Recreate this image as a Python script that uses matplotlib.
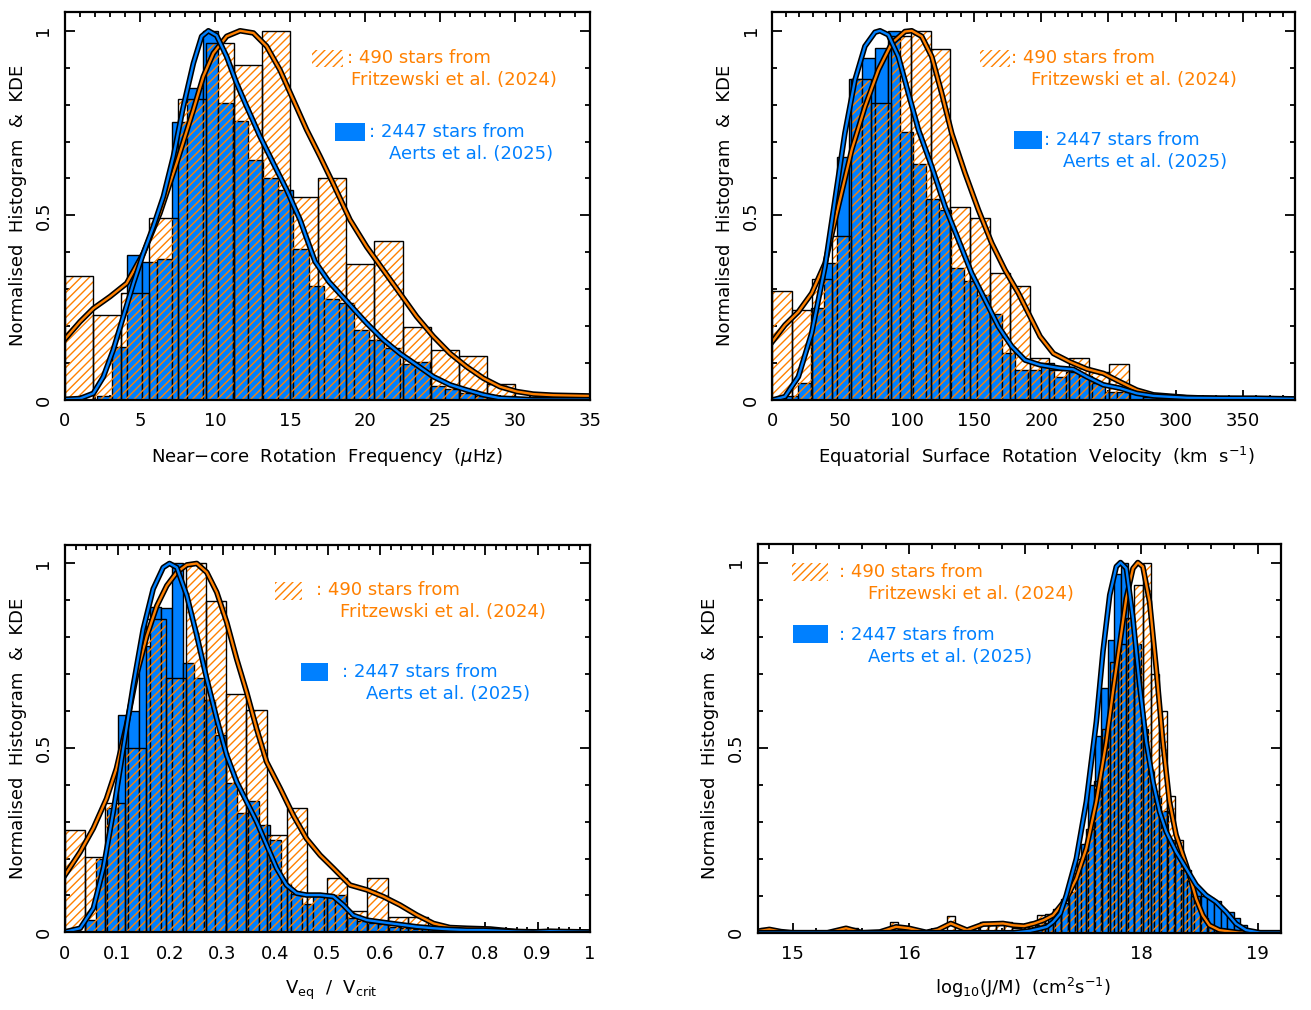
import numpy as np
import matplotlib
matplotlib.use("Agg")
import matplotlib.pyplot as plt
from matplotlib.patches import Rectangle
from matplotlib.ticker import MultipleLocator

plt.rcParams['font.family'] = ['DejaVu Sans']
plt.rcParams['hatch.linewidth'] = 1.0

ORANGE = '#FF8000'
BLUE = '#0080FF'

# ---------------- Panel 1 : near-core rotation frequency ----------------
p1_or_start, p1_or_width = 0.0, 1.875
p1_or_h = [0.336, 0.230, 0.291, 0.492, 0.816, 0.968, 0.906, 1.0, 0.551, 0.600,
           0.368, 0.431, 0.199, 0.136, 0.120, 0.043]
p1_bl_start, p1_bl_width = 2.10, 1.01
p1_bl_h = [0.01, 0.144, 0.393, 0.375, 0.381, 0.752, 0.845, 1.0, 0.804, 0.756,
           0.649, 0.602, 0.569, 0.408, 0.309, 0.274, 0.262, 0.190, 0.163, 0.140,
           0.098, 0.102, 0.038, 0.029, 0.020, 0.012, 0.006, 0.004]
p1_kde_or_x = [0.0, 1.0, 1.89, 3.0, 4.11, 5.22, 6.33, 7.44, 8.56, 9.22, 9.89, 10.78,
               11.67, 12.56, 13.44, 14.33, 15.22, 16.11, 17.0, 17.89, 19.0, 20.11,
               21.22, 22.33, 23.44, 24.56, 25.67, 26.78, 27.89, 29.0, 30.11, 31.22,
               32.56, 35.0]
p1_kde_or_y = [0.165, 0.212, 0.248, 0.280, 0.316, 0.397, 0.506, 0.641, 0.786, 0.876,
               0.939, 0.985, 1.0, 0.994, 0.958, 0.894, 0.813, 0.732, 0.660, 0.585,
               0.488, 0.415, 0.352, 0.289, 0.226, 0.172, 0.126, 0.090, 0.059, 0.036,
               0.023, 0.016, 0.013, 0.011]
p1_kde_bl_x = [0.0, 1.0, 1.89, 2.56, 3.22, 3.89, 4.56, 5.22, 5.89, 6.56, 7.22, 7.89,
               8.56, 9.11, 9.56, 10.11, 10.78, 11.44, 12.11, 13.0, 13.89, 14.78,
               15.67, 16.67, 17.6, 18.5, 19.5, 20.11, 21.22, 22.33, 23.44, 24.56,
               25.67, 26.78, 27.89, 29.0, 31.2, 35.0]
p1_kde_bl_y = [0.002, 0.004, 0.018, 0.063, 0.136, 0.226, 0.316, 0.397, 0.470, 0.551,
               0.659, 0.795, 0.912, 0.985, 1.0, 0.987, 0.930, 0.858, 0.795, 0.714,
               0.641, 0.569, 0.488, 0.375, 0.320, 0.280, 0.235, 0.208, 0.163, 0.126,
               0.095, 0.063, 0.041, 0.027, 0.014, 0.005, 0.001, 0.001]

# ---------------- Panel 2 : equatorial surface rotation velocity ----------------
p2_or_start, p2_or_width = 0.0, 14.72
p2_or_h = [0.294, 0.244, 0.327, 0.443, 0.869, 0.804, 0.985, 1.0, 0.951, 0.524,
           0.492, 0.343, 0.310, 0.113, 0.080, 0.113, 0.075, 0.097]
p2_bl_start, p2_bl_width = 0.39, 9.49
p2_bl_h = [0.005, 0.010, 0.045, 0.250, 0.370, 0.658, 0.869, 0.926, 0.953, 1.0,
           0.727, 0.640, 0.544, 0.515, 0.357, 0.321, 0.285, 0.233, 0.126, 0.081,
           0.081, 0.099, 0.063, 0.075, 0.065, 0.045, 0.022, 0.022, 0.018, 0.008,
           0.006, 0.005, 0.005, 0.004, 0.005, 0.006, 0.005, 0.004, 0.003, 0.004]
p2_kde_or_x = [0, 9.4, 19.4, 29.3, 39.2, 49.1, 59.1, 69.0, 78.9, 88.8, 98.7, 103.7,
               111.1, 118.6, 126.0, 133.5, 143.4, 153.3, 163.2, 173.1, 183.1, 193.0,
               199.2, 209.1, 221.5, 233.9, 246.3, 258.7, 271.1, 283.5, 308.3, 333.0,
               389.0]
p2_kde_or_y = [0.158, 0.203, 0.239, 0.289, 0.370, 0.524, 0.678, 0.795, 0.894, 0.966,
               0.998, 1.0, 0.985, 0.930, 0.831, 0.722, 0.614, 0.515, 0.425, 0.352,
               0.289, 0.217, 0.172, 0.126, 0.103, 0.084, 0.072, 0.049, 0.027, 0.014,
               0.007, 0.004, 0.002]
p2_kde_bl_x = [0, 9.4, 19.4, 29.3, 39.2, 46.6, 54.0, 61.5, 68.9, 76.4, 80.1, 86.3,
               93.8, 101.2, 108.7, 118.6, 128.5, 138.4, 148.3, 158.3, 168.2, 178.1,
               188.0, 199.2, 214.0, 223.9, 233.9, 246.3, 258.7, 271.1, 283.5, 308.3,
               333.0, 358.0, 389.0]
p2_kde_bl_y = [0.0, 0.009, 0.063, 0.181, 0.361, 0.542, 0.723, 0.867, 0.958, 0.996,
               1.0, 0.989, 0.930, 0.831, 0.732, 0.632, 0.524, 0.434, 0.343, 0.271,
               0.199, 0.145, 0.108, 0.095, 0.086, 0.083, 0.063, 0.041, 0.032, 0.018,
               0.011, 0.006, 0.005, 0.005, 0.003]

# ---------------- Panel 3 : Veq / Vcrit ----------------
p3_or_start, p3_or_width = 0.0, 0.0384
p3_or_h = [0.277, 0.205, 0.351, 0.500, 0.850, 0.690, 1.0, 0.897, 0.645, 0.603,
           0.263, 0.337, 0.105, 0.146, 0.058, 0.146, 0.042, 0.042]
p3_bl_start, p3_bl_width = 0.038, 0.0207
p3_bl_h = [0.033, 0.200, 0.337, 0.588, 0.600, 0.777, 0.881, 0.880, 1.0, 0.730,
           0.690, 0.630, 0.534, 0.404, 0.323, 0.355, 0.290, 0.250, 0.130, 0.105,
           0.077, 0.100, 0.100, 0.100, 0.038, 0.030, 0.026, 0.022, 0.015, 0.012,
           0.008, 0.008, 0.006, 0.006, 0.005, 0.004, 0.003, 0.002, 0.002, 0.003,
           0.003, 0.002, 0.002, 0.002, 0.002, 0.001]
p3_kde_bl_x = [0.002, 0.029, 0.054, 0.073, 0.092, 0.111, 0.130, 0.149, 0.168, 0.187,
               0.199, 0.213, 0.232, 0.251, 0.270, 0.289, 0.308, 0.327, 0.346, 0.365,
               0.384, 0.403, 0.422, 0.441, 0.460, 0.486, 0.511, 0.530, 0.549, 0.575,
               0.606, 0.638, 0.670, 0.702, 0.733, 0.765, 0.797, 0.829, 0.860, 0.892,
               0.924, 0.956, 1.0]
p3_kde_bl_y = [0.002, 0.011, 0.065, 0.173, 0.327, 0.498, 0.669, 0.822, 0.931, 0.989,
               1.0, 0.989, 0.913, 0.805, 0.687, 0.579, 0.480, 0.408, 0.354, 0.300,
               0.237, 0.174, 0.128, 0.106, 0.101, 0.101, 0.097, 0.074, 0.046, 0.033,
               0.027, 0.021, 0.015, 0.011, 0.008, 0.006, 0.006, 0.004, 0.002, 0.001,
               0.003, 0.002, 0.001]
p3_kde_or_x = [0.0, 0.029, 0.054, 0.079, 0.098, 0.117, 0.136, 0.156, 0.175, 0.194,
               0.213, 0.232, 0.251, 0.270, 0.289, 0.308, 0.327, 0.346, 0.365, 0.384,
               0.410, 0.435, 0.460, 0.486, 0.511, 0.543, 0.575, 0.606, 0.638, 0.670,
               0.702, 0.733, 0.765, 0.810, 0.860, 1.0]
p3_kde_or_y = [0.155, 0.218, 0.282, 0.362, 0.444, 0.561, 0.696, 0.804, 0.885, 0.940,
               0.976, 0.996, 1.0, 0.976, 0.922, 0.841, 0.741, 0.651, 0.552, 0.462,
               0.390, 0.317, 0.254, 0.209, 0.174, 0.128, 0.115, 0.097, 0.074, 0.047,
               0.024, 0.013, 0.011, 0.009, 0.002, 0.0]

# ---------------- Panel 4 : log10(J/M) ----------------
p4_or_start, p4_or_width = 14.72, 0.07
p4_or_h = [0.012, 0, 0, 0, 0, 0, 0, 0, 0, 0,
           0, 0.012, 0, 0, 0, 0, 0.030, 0.012, 0, 0,
           0, 0, 0, 0.045, 0, 0, 0, 0.030, 0.020, 0.020,
           0.030, 0.012, 0.020, 0.030, 0.047, 0.050, 0.065, 0.090, 0.140, 0.200,
           0.280, 0.410, 0.550, 0.730, 0.780, 0.850, 0.940, 1.0, 0.700, 0.600,
           0.370, 0.250, 0.170, 0.100, 0.040, 0.015]
p4_bl_start, p4_bl_width = 16.97, 0.057
p4_bl_h = [0.010, 0.015, 0.020, 0.025, 0.040, 0.050, 0.080, 0.110, 0.160, 0.240,
           0.400, 0.530, 0.660, 0.790, 0.970, 1.0, 0.850, 0.780, 0.550, 0.440,
           0.370, 0.330, 0.250, 0.220, 0.170, 0.140, 0.120, 0.100, 0.095, 0.085,
           0.060, 0.055, 0.040, 0.020, 0.005]
p4_kde_or_x = [14.70, 14.80, 14.90, 15.00, 15.30, 15.46, 15.60, 15.75, 15.89, 16.00,
               16.15, 16.25, 16.36, 16.50, 16.64, 16.81, 16.90, 16.99, 17.08, 17.16,
               17.24, 17.354, 17.44, 17.526, 17.612, 17.698, 17.755, 17.812, 17.869,
               17.927, 17.969, 18.012, 18.07, 18.127, 18.184, 18.241, 18.298, 18.356,
               18.413, 18.47, 18.527, 18.585, 18.67, 18.842, 19.2]
p4_kde_or_y = [0.004, 0.009, 0.003, 0.0, 0.0, 0.012, 0.0, 0.002, 0.016, 0.012,
               0.001, 0.008, 0.025, 0.007, 0.023, 0.025, 0.020, 0.018, 0.025, 0.034,
               0.047, 0.092, 0.146, 0.228, 0.354, 0.516, 0.651, 0.777, 0.903,
               0.984, 1.0, 0.989, 0.894, 0.714, 0.516, 0.354, 0.264, 0.210,
               0.156, 0.092, 0.047, 0.020, 0.007, 0.0, 0.0]
p4_kde_bl_x = [14.70, 16.9, 17.04, 17.125, 17.187, 17.24, 17.302, 17.354, 17.44, 17.526,
               17.612, 17.669, 17.727, 17.784, 17.82, 17.87, 17.927, 17.984, 18.041,
               18.099, 18.156, 18.213, 18.298, 18.384, 18.47, 18.556, 18.642, 18.728,
               18.814, 18.9, 19.02, 19.2]
p4_kde_bl_y = [0.0, 0.0, 0.005, 0.011, 0.016, 0.029, 0.052, 0.101, 0.200, 0.354,
               0.570, 0.759, 0.912, 0.989, 1.0, 0.984, 0.849, 0.669, 0.516,
               0.408, 0.327, 0.273, 0.219, 0.174, 0.129, 0.101, 0.083, 0.056,
               0.024, 0.007, 0.0, 0.0]

# ---------------- labels / ticks ----------------
xlabels = ["Near\u2212core  Rotation  Frequency  ($\\mu$Hz)",
           "Equatorial  Surface  Rotation  Velocity  (km  s$^{-1}$)",
           "V$_{\\mathrm{eq}}$  /  V$_{\\mathrm{crit}}$",
           "log$_{10}$(J/M)  (cm$^{2}$s$^{-1}$)"]
ylabel = "Normalised  Histogram  &  KDE"
leg_or = [": 490 stars from", "Fritzewski et al. (2024)"]
leg_bl = [": 2447 stars from", "Aerts et al. (2025)"]

xticks = [[0, 5, 10, 15, 20, 25, 30, 35],
          [0, 50, 100, 150, 200, 250, 300, 350],
          [0, 0.1, 0.2, 0.3, 0.4, 0.5, 0.6, 0.7, 0.8, 0.9, 1.0],
          [15, 16, 17, 18, 19]]
xticklabels = [["0", "5", "10", "15", "20", "25", "30", "35"],
               ["0", "50", "100", "150", "200", "250", "300", "350"],
               ["0", "0.1", "0.2", "0.3", "0.4", "0.5", "0.6", "0.7", "0.8", "0.9", "1"],
               ["15", "16", "17", "18", "19"]]
xminor = [1, 10, 0.02, 0.2]
xlims = [(0, 35), (0, 389), (0, 1), (14.7, 19.2)]
yticks = [0, 0.5, 1]
yticklabels = ["0", "0.5", "1"]

W, H = 1311, 1010
FS = 13


def fx(px):
    return px / W


def fy(py):
    return 1 - py / H


fig = plt.figure(figsize=(W / 100, H / 100), dpi=100)

rects = [(65, 12.3, 590, 400), (772.3, 12.3, 1295.3, 400),
         (65, 545, 590, 932.3), (757.7, 544, 1281, 932.7)]
axes = [fig.add_axes([fx(l), fy(b), fx(r) - fx(l), fy(t) - fy(b)]) for (l, t, r, b) in rects]

data = [
    (p1_or_start, p1_or_width, p1_or_h, p1_bl_start, p1_bl_width, p1_bl_h,
     p1_kde_or_x, p1_kde_or_y, p1_kde_bl_x, p1_kde_bl_y),
    (p2_or_start, p2_or_width, p2_or_h, p2_bl_start, p2_bl_width, p2_bl_h,
     p2_kde_or_x, p2_kde_or_y, p2_kde_bl_x, p2_kde_bl_y),
    (p3_or_start, p3_or_width, p3_or_h, p3_bl_start, p3_bl_width, p3_bl_h,
     p3_kde_or_x, p3_kde_or_y, p3_kde_bl_x, p3_kde_bl_y),
    (p4_or_start, p4_or_width, p4_or_h, p4_bl_start, p4_bl_width, p4_bl_h,
     p4_kde_or_x, p4_kde_or_y, p4_kde_bl_x, p4_kde_bl_y),
]

for i, ax in enumerate(axes):
    (os_, ow, oh, bs, bw, bh, kox, koy, kbx, kby) = data[i]
    oleft = os_ + ow * np.arange(len(oh))
    bleft = bs + bw * np.arange(len(bh))
    ax.bar(bleft, bh, width=bw, align='edge', color=BLUE, edgecolor='black',
           linewidth=1.0, zorder=2)
    ax.bar(oleft, oh, width=ow, align='edge', facecolor='none', edgecolor=ORANGE,
           hatch='////', linewidth=0, zorder=3)
    ax.bar(oleft, oh, width=ow, align='edge', fill=False, edgecolor='black',
           linewidth=1.0, zorder=4)
    ax.plot(kox, koy, color='black', lw=4.0, zorder=5, solid_joinstyle='round')
    ax.plot(kox, koy, color=ORANGE, lw=1.7, zorder=6, solid_joinstyle='round')
    ax.plot(kbx, kby, color='black', lw=4.0, zorder=7, solid_joinstyle='round')
    ax.plot(kbx, kby, color=BLUE, lw=1.7, zorder=8, solid_joinstyle='round')

    ax.set_xlim(*xlims[i])
    ax.set_ylim(0, 1.05)
    ax.set_xticks(xticks[i])
    ax.set_xticklabels(xticklabels[i], fontsize=FS)
    ax.xaxis.set_minor_locator(MultipleLocator(xminor[i]))
    ax.set_yticks(yticks)
    ax.set_yticklabels(yticklabels, fontsize=FS, rotation=90, va='center')
    ax.yaxis.set_minor_locator(MultipleLocator(0.1))
    ax.tick_params(which='both', direction='in', top=True, right=True, width=1.3)
    ax.tick_params(which='major', length=7)
    ax.tick_params(which='minor', length=3.5)
    ax.tick_params(axis='x', pad=9)
    ax.tick_params(axis='y', pad=9)
    for s in ax.spines.values():
        s.set_linewidth(1.6)
        s.set_zorder(10)

# axis labels
xlab_pos = [(327, 457), (1036, 457), (331, 990), (1023, 988)]
ylab_pos = [(18, 205), (725, 205), (18, 738), (710, 738)]
for i in range(4):
    fig.text(fx(xlab_pos[i][0]), fy(xlab_pos[i][1]), xlabels[i], fontsize=FS,
             ha='center', va='center')
    fig.text(fx(ylab_pos[i][0]), fy(ylab_pos[i][1]), ylabel, fontsize=FS,
             ha='center', va='center', rotation=90)

# legends: (hatch patch rect l,t,r,b), text positions
legs = [
    dict(hp=(312, 50, 343, 67), t1=(347, 58), t2=(351, 80),
         bp=(335, 123, 365, 141), t3=(369, 132), t4=(389, 154)),
    dict(hp=(980, 50, 1010, 67), t1=(1011, 58), t2=(1031, 80),
         bp=(1014, 131, 1042, 149), t3=(1044, 140), t4=(1063, 162)),
    dict(hp=(275, 582, 302, 600), t1=(316, 590), t2=(340, 612),
         bp=(301, 663, 328, 681), t3=(342, 672), t4=(366, 694)),
    dict(hp=(792, 563, 828, 581), t1=(839, 572), t2=(868, 594),
         bp=(793, 625, 828, 643), t3=(839, 635), t4=(868, 657)),
]
for lg in legs:
    l, t, r, b = lg['hp']
    fig.add_artist(Rectangle((fx(l), fy(b)), fx(r) - fx(l), fy(t) - fy(b),
                             transform=fig.transFigure, facecolor='none',
                             edgecolor=ORANGE, hatch='////', linewidth=0))
    l, t, r, b = lg['bp']
    fig.add_artist(Rectangle((fx(l), fy(b)), fx(r) - fx(l), fy(t) - fy(b),
                             transform=fig.transFigure, facecolor=BLUE,
                             edgecolor='none', linewidth=0))
    fig.text(fx(lg['t1'][0]), fy(lg['t1'][1]), leg_or[0], color=ORANGE, fontsize=FS,
             ha='left', va='center')
    fig.text(fx(lg['t2'][0]), fy(lg['t2'][1]), leg_or[1], color=ORANGE, fontsize=FS,
             ha='left', va='center')
    fig.text(fx(lg['t3'][0]), fy(lg['t3'][1]), leg_bl[0], color=BLUE, fontsize=FS,
             ha='left', va='center')
    fig.text(fx(lg['t4'][0]), fy(lg['t4'][1]), leg_bl[1], color=BLUE, fontsize=FS,
             ha='left', va='center')

fig.savefig("out.png", dpi=100)
